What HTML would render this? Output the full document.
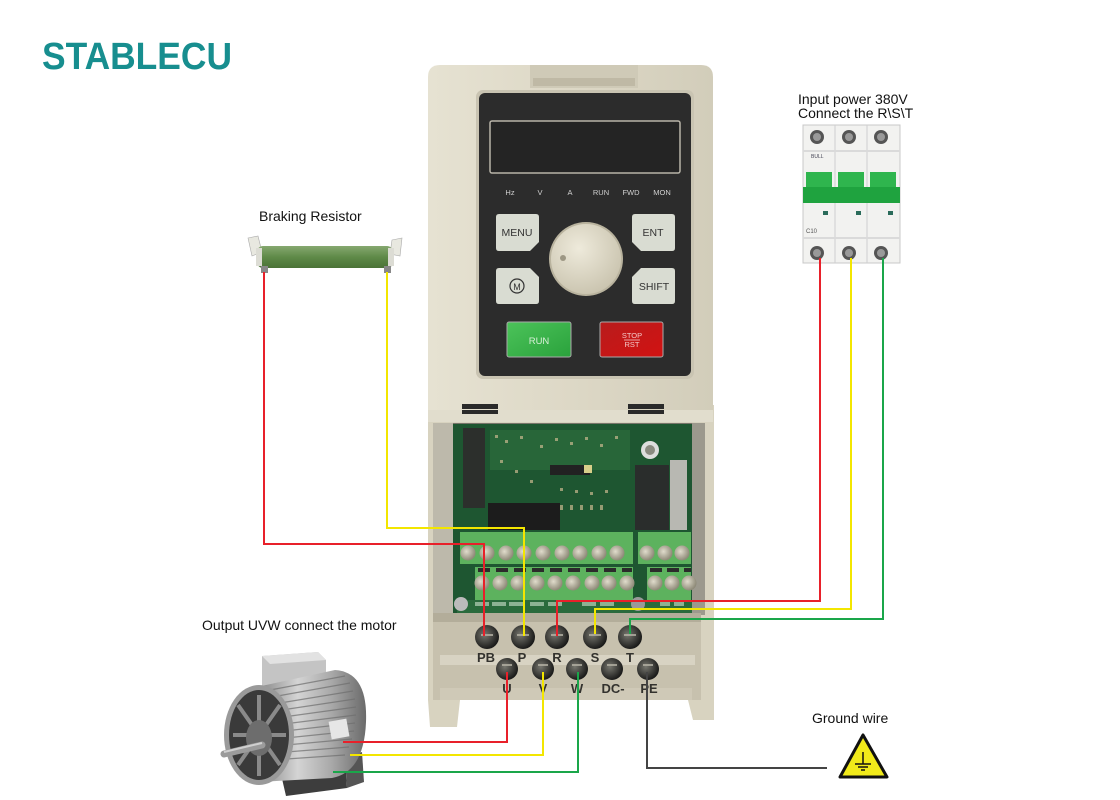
<!DOCTYPE html>
<html>
<head>
<meta charset="utf-8">
<style>
html,body{margin:0;padding:0;background:#fff;}
svg{display:block;}
text{font-family:"Liberation Sans",Arial,sans-serif;}
</style>
</head>
<body>
<svg width="1120" height="800" viewBox="0 0 1120 800" xmlns="http://www.w3.org/2000/svg">
<defs>
  <linearGradient id="cover" x1="0" x2="1" y1="0" y2="0">
    <stop offset="0" stop-color="#e6e2d2"/>
    <stop offset="0.5" stop-color="#ddd8c6"/>
    <stop offset="1" stop-color="#d2cdba"/>
  </linearGradient>
  <linearGradient id="run" x1="0" x2="1" y1="0" y2="1">
    <stop offset="0" stop-color="#4cc35a"/>
    <stop offset="1" stop-color="#2aa23c"/>
  </linearGradient>
  <linearGradient id="stop" x1="0" x2="1" y1="0" y2="1">
    <stop offset="0" stop-color="#b81c1c"/>
    <stop offset="1" stop-color="#d21212"/>
  </linearGradient>
  <radialGradient id="knob" cx="0.4" cy="0.35" r="0.7">
    <stop offset="0" stop-color="#eeeadb"/>
    <stop offset="1" stop-color="#c9c3ae"/>
  </radialGradient>
  <linearGradient id="res" x1="0" x2="0" y1="0" y2="1">
    <stop offset="0" stop-color="#86a870"/>
    <stop offset="0.5" stop-color="#5f8a48"/>
    <stop offset="1" stop-color="#4a7236"/>
  </linearGradient>
  <linearGradient id="motor" x1="0" x2="1" y1="0" y2="0">
    <stop offset="0" stop-color="#7a7a7a"/>
    <stop offset="0.4" stop-color="#d4d4d4"/>
    <stop offset="0.7" stop-color="#a8a8a8"/>
    <stop offset="1" stop-color="#6a6a6a"/>
  </linearGradient>
  <radialGradient id="screw" cx="0.4" cy="0.4" r="0.6">
    <stop offset="0" stop-color="#77776f"/>
    <stop offset="1" stop-color="#1b1b1a"/>
  </radialGradient>
  <radialGradient id="gscrew" cx="0.4" cy="0.4" r="0.6">
    <stop offset="0" stop-color="#e0dccc"/>
    <stop offset="1" stop-color="#8e8a78"/>
  </radialGradient>
</defs>

<!-- Logo -->
<text x="42" y="69" font-size="38" font-weight="bold" fill="#178e8f" textLength="190" lengthAdjust="spacingAndGlyphs">STABLECU</text>

<!-- Labels -->
<text x="259" y="221" font-size="14" fill="#111">Braking Resistor</text>
<text x="798" y="104" font-size="14" fill="#111">Input power 380V</text>
<text x="798" y="118" font-size="14" fill="#111">Connect the R\S\T</text>
<text x="202" y="630" font-size="14" fill="#111">Output UVW connect the motor</text>
<text x="812" y="723" font-size="14" fill="#111">Ground wire</text>

<!-- Braking resistor -->
<g>
  <path d="M248,238 L258,236 L262,252 L252,256 Z" fill="#e8e8e0" stroke="#aaa" stroke-width="0.6"/>
  <path d="M392,240 L402,238 L400,256 L390,254 Z" fill="#e8e8e0" stroke="#aaa" stroke-width="0.6"/>
  <rect x="257" y="246" width="136" height="22" rx="6" fill="url(#res)"/>
  <rect x="256" y="248" width="6" height="18" fill="#dcdcd4"/>
  <rect x="388" y="248" width="6" height="18" fill="#dcdcd4"/>
  <rect x="261" y="266" width="7" height="7" fill="#888"/>
  <rect x="384" y="266" width="7" height="7" fill="#888"/>
</g>

<!-- Circuit breaker -->
<g>
  <rect x="803" y="125" width="97" height="138" fill="#f2f2f0" stroke="#c8c8c8"/>
  <line x1="835" y1="125" x2="835" y2="263" stroke="#cfcfcf"/>
  <line x1="867" y1="125" x2="867" y2="263" stroke="#cfcfcf"/>
  <rect x="803" y="150" width="97" height="2" fill="#dadada"/>
  <rect x="803" y="237" width="97" height="2" fill="#dadada"/>
  <circle cx="817" cy="137" r="7" fill="#555"/><circle cx="817" cy="137" r="4" fill="#999"/>
  <circle cx="849" cy="137" r="7" fill="#555"/><circle cx="849" cy="137" r="4" fill="#999"/>
  <circle cx="881" cy="137" r="7" fill="#555"/><circle cx="881" cy="137" r="4" fill="#999"/>
  <circle cx="817" cy="253" r="7" fill="#555"/><circle cx="817" cy="253" r="4" fill="#999"/>
  <circle cx="849" cy="253" r="7" fill="#555"/><circle cx="849" cy="253" r="4" fill="#999"/>
  <circle cx="881" cy="253" r="7" fill="#555"/><circle cx="881" cy="253" r="4" fill="#999"/>
  <rect x="806" y="172" width="26" height="16" fill="#2fb54e"/>
  <rect x="838" y="172" width="26" height="16" fill="#2fb54e"/>
  <rect x="870" y="172" width="26" height="16" fill="#2fb54e"/>
  <rect x="803" y="187" width="97" height="16" fill="#1fa33f"/>
  <text x="811" y="158" font-size="5" fill="#445">BULL</text>
  <text x="806" y="233" font-size="6" fill="#555">C10</text>
  <rect x="823" y="211" width="5" height="4" fill="#2a6b5a"/>
  <rect x="856" y="211" width="5" height="4" fill="#2a6b5a"/>
  <rect x="888" y="211" width="5" height="4" fill="#2a6b5a"/>
</g>

<!-- Inverter: lower housing -->
<g>
  <path d="M428,405 L714,405 L714,720 L693,720 L688,700 L460,700 L457,727 L430,727 L428,700 Z" fill="#d8d3c0"/>
  <rect x="433" y="423" width="272" height="192" fill="#77746a"/>
  <rect x="433" y="423" width="20" height="192" fill="#bdb9ab"/>
  <rect x="692" y="423" width="13" height="192" fill="#9c998d"/>
  <!-- PCB -->
  <rect x="453" y="424" width="239" height="190" fill="#1e5631"/>
  <rect x="490" y="430" width="140" height="40" fill="#2b6a3c" opacity="0.8"/>
  <g fill="#c9b98f" opacity="0.7">
    <rect x="495" y="435" width="3" height="3"/><rect x="505" y="440" width="3" height="3"/><rect x="520" y="436" width="3" height="3"/>
    <rect x="540" y="445" width="3" height="3"/><rect x="555" y="438" width="3" height="3"/><rect x="570" y="442" width="3" height="3"/>
    <rect x="585" y="437" width="3" height="3"/><rect x="600" y="444" width="3" height="3"/><rect x="615" y="436" width="3" height="3"/>
    <rect x="500" y="460" width="3" height="3"/><rect x="515" y="470" width="3" height="3"/><rect x="530" y="480" width="3" height="3"/>
    <rect x="560" y="488" width="3" height="3"/><rect x="575" y="490" width="3" height="3"/><rect x="590" y="492" width="3" height="3"/>
    <rect x="605" y="490" width="3" height="3"/><rect x="560" y="505" width="3" height="5"/><rect x="570" y="505" width="3" height="5"/>
    <rect x="580" y="505" width="3" height="5"/><rect x="590" y="505" width="3" height="5"/><rect x="600" y="505" width="3" height="5"/>
  </g>
  <rect x="463" y="428" width="22" height="80" fill="#2c2f2c"/>
  <rect x="550" y="465" width="40" height="10" fill="#222"/>
  <rect x="584" y="465" width="8" height="8" fill="#d8cf8a"/>
  <rect x="488" y="503" width="72" height="27" fill="#1c1c1c"/>
  <rect x="635" y="465" width="34" height="65" fill="#2a2d2c"/>
  <rect x="670" y="460" width="17" height="70" fill="#b8b8b2"/>
  <circle cx="650" cy="450" r="9" fill="#ddd"/><circle cx="650" cy="450" r="5" fill="#8a8a80"/>
  <!-- terminal blocks -->
  <rect x="460" y="532" width="173" height="32" fill="#5db25e"/>
  <rect x="638" y="532" width="53" height="32" fill="#5db25e"/>
  <rect x="475" y="567" width="158" height="33" fill="#5db25e"/>
  <rect x="647" y="567" width="44" height="33" fill="#5db25e"/>
  <g fill="url(#gscrew)">
    <circle cx="468" cy="553" r="7.5"/><circle cx="487" cy="553" r="7.5"/><circle cx="506" cy="553" r="7.5"/>
    <circle cx="524" cy="553" r="7.5"/><circle cx="543" cy="553" r="7.5"/><circle cx="562" cy="553" r="7.5"/>
    <circle cx="580" cy="553" r="7.5"/><circle cx="599" cy="553" r="7.5"/><circle cx="617" cy="553" r="7.5"/>
    <circle cx="647" cy="553" r="7.5"/><circle cx="665" cy="553" r="7.5"/><circle cx="682" cy="553" r="7.5"/>
    <circle cx="482" cy="583" r="7.5"/><circle cx="500" cy="583" r="7.5"/><circle cx="518" cy="583" r="7.5"/>
    <circle cx="537" cy="583" r="7.5"/><circle cx="555" cy="583" r="7.5"/><circle cx="573" cy="583" r="7.5"/>
    <circle cx="592" cy="583" r="7.5"/><circle cx="609" cy="583" r="7.5"/><circle cx="627" cy="583" r="7.5"/>
    <circle cx="655" cy="583" r="7.5"/><circle cx="672" cy="583" r="7.5"/><circle cx="689" cy="583" r="7.5"/>
  </g>
  <g fill="#2b2b2b">
    <rect x="478" y="568" width="12" height="4"/><rect x="496" y="568" width="12" height="4"/><rect x="514" y="568" width="12" height="4"/>
    <rect x="532" y="568" width="12" height="4"/><rect x="550" y="568" width="12" height="4"/><rect x="568" y="568" width="12" height="4"/>
    <rect x="586" y="568" width="12" height="4"/><rect x="604" y="568" width="12" height="4"/><rect x="622" y="568" width="10" height="4"/>
    <rect x="650" y="568" width="12" height="4"/><rect x="667" y="568" width="12" height="4"/><rect x="684" y="568" width="7" height="4"/>
  </g>
  <rect x="457" y="600" width="235" height="13" fill="#2a6a3c"/>
  <g fill="#cfe2cf" opacity="0.6">
    <rect x="475" y="602" width="14" height="4"/><rect x="492" y="602" width="14" height="4"/><rect x="509" y="602" width="14" height="4"/>
    <rect x="530" y="602" width="14" height="4"/><rect x="548" y="602" width="14" height="4"/><rect x="582" y="602" width="14" height="4"/>
    <rect x="600" y="602" width="14" height="4"/><rect x="660" y="602" width="10" height="4"/><rect x="674" y="602" width="10" height="4"/>
  </g>
  <circle cx="461" cy="604" r="7" fill="#bbb"/>
  <circle cx="638" cy="604" r="7" fill="#999"/>
  <!-- terminal strip area -->
  <rect x="433" y="613" width="268" height="87" fill="#c7c1ae"/>
  <rect x="433" y="613" width="268" height="9" fill="#b3ad9a"/>
  <rect x="440" y="655" width="255" height="10" fill="#d8d3c3"/>
  <rect x="440" y="688" width="252" height="12" fill="#cfc9b7"/>
  <g fill="url(#screw)">
    <circle cx="487" cy="637" r="12"/><circle cx="523" cy="637" r="12"/><circle cx="557" cy="637" r="12"/>
    <circle cx="595" cy="637" r="12"/><circle cx="630" cy="637" r="12"/>
    <circle cx="507" cy="669" r="11"/><circle cx="543" cy="669" r="11"/><circle cx="577" cy="669" r="11"/>
    <circle cx="612" cy="669" r="11"/><circle cx="648" cy="669" r="11"/>
  </g>
  <g fill="#b5b2a5" opacity="0.8">
    <rect x="481" y="634" width="12" height="2"/><rect x="517" y="634" width="12" height="2"/><rect x="551" y="634" width="12" height="2"/>
    <rect x="589" y="634" width="12" height="2"/><rect x="624" y="634" width="12" height="2"/>
    <rect x="502" y="664" width="10" height="2"/><rect x="538" y="664" width="10" height="2"/><rect x="572" y="664" width="10" height="2"/>
    <rect x="607" y="664" width="10" height="2"/><rect x="643" y="664" width="10" height="2"/>
  </g>
  <g fill="#33322e" font-size="13" font-weight="bold" text-anchor="middle">
    <text x="486" y="662">PB</text><text x="522" y="662">P</text><text x="557" y="662">R</text>
    <text x="595" y="662">S</text><text x="630" y="662">T</text>
    <text x="507" y="693">U</text><text x="543" y="693">V</text><text x="577" y="693">W</text>
    <text x="613" y="693">DC-</text><text x="649" y="693">PE</text>
  </g>
</g>

<!-- Inverter: top cover -->
<g>
  <path d="M428,77 Q428,65 440,65 L701,65 Q713,65 713,77 L713,410 L428,410 Z" fill="url(#cover)"/>
  <rect x="530" y="65" width="108" height="23" fill="#cfcab7"/>
  <rect x="533" y="78" width="102" height="8" fill="#bfb9a5"/>
  <rect x="462" y="404" width="36" height="5" fill="#2a2a2a"/>
  <rect x="628" y="404" width="36" height="5" fill="#2a2a2a"/>
  <rect x="428" y="410" width="285" height="12" fill="#e1ddcd"/>
  <rect x="462" y="410" width="36" height="4" fill="#2a2a2a"/>
  <rect x="628" y="410" width="36" height="4" fill="#2a2a2a"/>
  <!-- keypad -->
  <rect x="476" y="90" width="218" height="289" rx="7" fill="#c9c4b2"/>
  <rect x="479" y="93" width="212" height="283" rx="6" fill="#2c2c2c"/>
  <rect x="490" y="121" width="190" height="52" rx="2" fill="#242424" stroke="#b8b4a8" stroke-width="1.5"/>
  <g fill="#d0d0d0" font-size="7.5" text-anchor="middle">
    <text x="510" y="195">Hz</text><text x="540" y="195">V</text><text x="570" y="195">A</text>
    <text x="601" y="195">RUN</text><text x="631" y="195">FWD</text><text x="662" y="195">MON</text>
  </g>
  <path d="M496,217 Q496,214 499,214 L536,214 Q539,214 539,217 L539,242 L530,251 L499,251 Q496,251 496,248 Z" fill="#d9dcd2"/>
  <path d="M632,217 Q632,214 635,214 L672,214 Q675,214 675,217 L675,248 Q675,251 672,251 L641,251 L632,242 Z" fill="#d9dcd2"/>
  <path d="M496,271 Q496,268 499,268 L530,268 L539,277 L539,301 Q539,304 536,304 L499,304 Q496,304 496,301 Z" fill="#d9dcd2"/>
  <path d="M641,268 L672,268 Q675,268 675,271 L675,301 Q675,304 672,304 L635,304 Q632,304 632,301 L632,277 Z" fill="#d9dcd2"/>
  <g fill="#333" font-size="10.5" text-anchor="middle">
    <text x="517" y="236">MENU</text><text x="653" y="236">ENT</text><text x="654" y="290">SHIFT</text>
  </g>
  <circle cx="517" cy="286" r="7" fill="none" stroke="#333" stroke-width="1.2"/>
  <text x="517" y="290" font-size="9" fill="#333" text-anchor="middle">M</text>
  <circle cx="586" cy="259" r="37" fill="#b9b39e"/>
  <circle cx="586" cy="259" r="35" fill="url(#knob)"/>
  <circle cx="563" cy="258" r="3" fill="#9d9784"/>
  <rect x="507" y="322" width="64" height="35" rx="2" fill="url(#run)" stroke="#aaa" stroke-width="1"/>
  <text x="539" y="344" font-size="9.5" fill="#d8f0d8" text-anchor="middle">RUN</text>
  <rect x="600" y="322" width="63" height="35" rx="2" fill="url(#stop)" stroke="#aaa" stroke-width="1"/>
  <text x="632" y="338" font-size="7.5" fill="#f4c8c8" text-anchor="middle">STOP</text>
  <line x1="624" y1="340" x2="640" y2="340" stroke="#f4c8c8" stroke-width="0.8"/>
  <text x="632" y="347" font-size="7.5" fill="#f4c8c8" text-anchor="middle">RST</text>
</g>

<!-- Motor -->
<g>
  <path d="M280,770 L345,758 L347,788 L286,796 Z" fill="#3d3d3d"/>
  <path d="M345,758 L362,752 L364,782 L347,788 Z" fill="#555"/>
  <path d="M262,656 L318,652 L326,660 L326,684 L262,688 Z" fill="#c4c4c4"/>
  <path d="M262,656 L318,652 L326,660 L270,664 Z" fill="#e2e2e2"/>
  <path d="M252,688 L335,670 Q368,672 366,722 Q364,772 332,778 L258,782 Z" fill="url(#motor)"/>
  <g stroke="#6e6e6e" stroke-width="1.2" opacity="0.7">
    <line x1="270" y1="690" x2="345" y2="676"/><line x1="272" y1="697" x2="350" y2="683"/>
    <line x1="274" y1="704" x2="353" y2="691"/><line x1="275" y1="711" x2="355" y2="699"/>
    <line x1="276" y1="718" x2="356" y2="707"/><line x1="276" y1="725" x2="356" y2="715"/>
    <line x1="276" y1="732" x2="355" y2="723"/><line x1="276" y1="739" x2="354" y2="731"/>
    <line x1="275" y1="746" x2="352" y2="739"/><line x1="274" y1="753" x2="349" y2="747"/>
    <line x1="272" y1="760" x2="345" y2="755"/>
  </g>
  <rect x="330" y="720" width="18" height="18" fill="#e6e6e6" transform="rotate(-10 339 729)"/>
  <ellipse cx="259" cy="735" rx="35" ry="50" fill="#9a9a9a"/>
  <ellipse cx="259" cy="735" rx="30" ry="45" fill="#3a3a3a"/>
  <g stroke="#8a8a8a" stroke-width="4">
    <line x1="259" y1="735" x2="259" y2="695"/><line x1="259" y1="735" x2="280" y2="705"/>
    <line x1="259" y1="735" x2="286" y2="735"/><line x1="259" y1="735" x2="280" y2="765"/>
    <line x1="259" y1="735" x2="259" y2="776"/><line x1="259" y1="735" x2="238" y2="765"/>
    <line x1="259" y1="735" x2="233" y2="735"/><line x1="259" y1="735" x2="238" y2="705"/>
  </g>
  <ellipse cx="259" cy="738" rx="13" ry="18" fill="#6d6d6d"/>
  <line x1="224" y1="754" x2="262" y2="745" stroke="#9b9b9b" stroke-width="7" stroke-linecap="round"/>
  <line x1="224" y1="752" x2="262" y2="743" stroke="#d0d0d0" stroke-width="2"/>
</g>

<!-- Ground symbol -->
<g>
  <path d="M863,735 L887,777 L840,777 Z" fill="#f1ea1a" stroke="#111" stroke-width="3" stroke-linejoin="round"/>
  <line x1="863" y1="752" x2="863" y2="764" stroke="#111" stroke-width="1.5"/>
  <line x1="855" y1="764" x2="871" y2="764" stroke="#111" stroke-width="1.5"/>
  <line x1="858" y1="767" x2="868" y2="767" stroke="#111" stroke-width="1.5"/>
  <line x1="861" y1="770" x2="865" y2="770" stroke="#111" stroke-width="1.5"/>
</g>

<!-- Wires -->
<g fill="none" stroke-width="2">
  <path d="M264,272 V544 H484 V636" stroke="#e8202a"/>
  <path d="M387,272 V528 H524 V636" stroke="#f3e600"/>
  <path d="M820,258 V601 H557 V636" stroke="#e8202a"/>
  <path d="M851,258 V609 H595 V634" stroke="#f3e600"/>
  <path d="M883,258 V619 H630 V634" stroke="#1aa64a"/>
  <path d="M507,672 V742 H343" stroke="#e8202a"/>
  <path d="M543,672 V755 H350" stroke="#f3e600"/>
  <path d="M578,672 V772 H333" stroke="#1aa64a"/>
  <path d="M647,672 V768 H827" stroke="#444"/>
</g>
</svg>
</body>
</html>
